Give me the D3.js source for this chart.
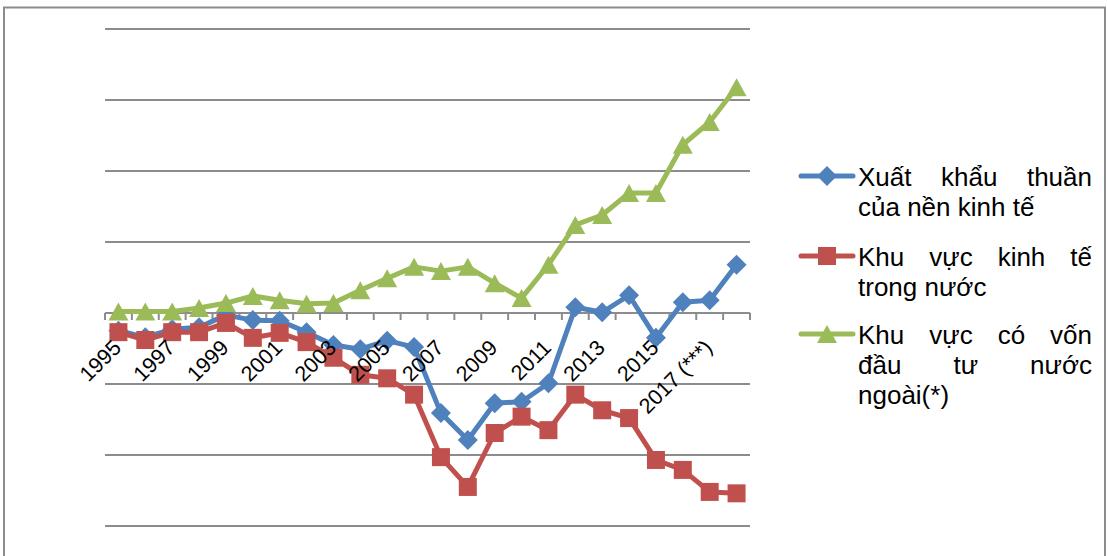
<!DOCTYPE html>
<html>
<head>
<meta charset="utf-8">
<script src="https://cdn.jsdelivr.net/npm/d3@7"></script>
<style>
  html, body { margin: 0; padding: 0; background: #fff; }
  svg { display: block; font-family: "Liberation Sans", Arial, sans-serif; }
</style>
</head>
<body>
<svg id="chart" width="1108" height="556"></svg>
<script>
// ---- data ----
const categories = ["1995","1996","1997","1998","1999","2000","2001","2002","2003","2004","2005","2006",
  "2007","2008","2009","2010","2011","2012","2013","2014","2015","2016","2017 (***)","2018"];
const netExports = [-2.5,-3.4,-2.3,-2.0,-0.3,-1.0,-1.1,-2.7,-4.5,-5.1,-3.9,-4.8,
  -14.1,-17.9,-12.7,-12.5,-9.9,0.8,0.1,2.5,-3.5,1.5,1.8,6.8];
const domestic = [-2.7,-3.8,-2.7,-2.7,-1.4,-3.5,-2.8,-4.1,-6.3,-8.7,-9.2,-11.5,
  -20.3,-24.5,-16.9,-14.6,-16.5,-11.5,-13.7,-14.8,-20.7,-22.1,-25.2,-25.4];
const fdi = [0.2,0.2,0.2,0.7,1.4,2.4,1.8,1.3,1.4,3.2,4.9,6.5,
  5.9,6.5,4.2,2.1,6.8,12.4,13.8,16.9,16.9,23.7,26.9,31.8];
const seriesNames = [
  ["Xuất khẩu thuần", "của nền kinh tế"],
  ["Khu vực kinh tế", "trong nước"],
  ["Khu vực có vốn", "đầu tư nước", "ngoài(*)"]
];
const yTicks = [-30,-20,-10,0,10,20,30,40];

// ---- setup ----
const svg = d3.select("#chart");
const colors = ["#4F81BD", "#C0504D", "#9BBB59"];
const markerPaths = [
  "M0,-10L10,0L0,10L-10,0Z",          // diamond
  "M-9,-9L9,-9L9,9L-9,9Z",            // square
  "M0,-9L10,9L-10,9Z"                 // triangle
];
const seriesData = [netExports, domestic, fdi];

// outer border
svg.append("rect").attr("x", 4).attr("y", 7.5).attr("width", 1101).attr("height", 560)
  .attr("fill", "none").attr("stroke", "#8c8c8c").attr("stroke-width", 2);

const x = d3.scaleBand().domain(categories).range([105, 750]).paddingInner(0).paddingOuter(0);
const y = d3.scaleLinear().domain([-30, 40]).range([526, 29]);
const cx = c => x(c) + x.bandwidth() / 2;

// gridlines
svg.append("g").selectAll("line").data(yTicks.filter(t => t !== 0)).join("line")
  .attr("x1", 105).attr("x2", 750)
  .attr("y1", d => y(d)).attr("y2", d => y(d))
  .attr("stroke", "#8c8c8c").attr("stroke-width", 2);

// category axis at zero
const axisG = svg.append("g");
axisG.append("line").attr("x1", 105).attr("x2", 750).attr("y1", y(0)).attr("y2", y(0))
  .attr("stroke", "#8c8c8c").attr("stroke-width", 2);
const tickPos = categories.map(c => x(c)).concat([x(categories[categories.length - 1]) + x.bandwidth()]);
axisG.selectAll("line.tick").data(tickPos).join("line").attr("class", "tick")
  .attr("x1", d => d).attr("x2", d => d)
  .attr("y1", y(0)).attr("y2", y(0) + 7)
  .attr("stroke", "#8c8c8c").attr("stroke-width", 2);

// series
const line = d3.line().x((d, i) => cx(categories[i])).y(d => y(d));
seriesData.forEach((vals, s) => {
  const g = svg.append("g");
  g.append("path").datum(vals).attr("d", line)
    .attr("fill", "none").attr("stroke", colors[s]).attr("stroke-width", 5)
    .attr("stroke-linejoin", "round").attr("stroke-linecap", "round");
  g.selectAll("path.m").data(vals).join("path").attr("class", "m")
    .attr("d", markerPaths[s])
    .attr("transform", (d, i) => `translate(${cx(categories[i])},${y(d)})`)
    .attr("fill", colors[s]);
});

// category labels (every other)
svg.append("g").selectAll("text").data(categories.filter((c, i) => i % 2 === 0)).join("text")
  .attr("transform", c => `translate(${cx(c) + 4},${y(0) + 36}) rotate(-45)`)
  .attr("text-anchor", "end")
  .attr("font-size", 21.5)
  .attr("fill", "#000")
  .text(c => c);

// legend
const legendLeft = 858, legendRight = 1092;
const entryTop = [186, 266, 344];
const lineH = 30;
seriesNames.forEach((lines, s) => {
  const sy = entryTop[s] - 10;
  svg.append("line").attr("x1", 801).attr("x2", 853).attr("y1", sy).attr("y2", sy)
    .attr("stroke", colors[s]).attr("stroke-width", 5).attr("stroke-linecap", "round");
  svg.append("path").attr("d", markerPaths[s]).attr("transform", `translate(827,${sy})`)
    .attr("fill", colors[s]);
  lines.forEach((ln, li) => {
    const base = entryTop[s] + li * lineH;
    const justify = li < lines.length - 1;
    const words = ln.split(" ");
    const t = svg.append("text").attr("y", base).attr("font-size", 26).attr("fill", "#000");
    if (!justify) {
      t.attr("x", legendLeft).text(ln);
    } else {
      const spans = words.map(w => t.append("tspan").attr("x", legendLeft).text(w));
      const widths = spans.map(sp => sp.node().getComputedTextLength());
      const total = d3.sum(widths);
      const gap = (legendRight - legendLeft - total) / (words.length - 1);
      let xx = legendLeft;
      spans.forEach((sp, k) => { sp.attr("x", xx); xx += widths[k] + gap; });
    }
  });
});
</script>
</body>
</html>
